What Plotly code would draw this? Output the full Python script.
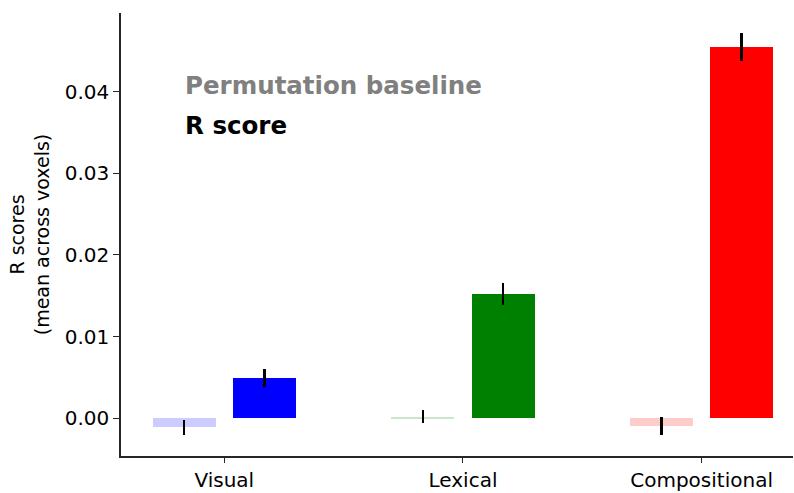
import plotly.graph_objects as go

categories = ["Visual", "Lexical", "Compositional"]
baseline_means = [-0.0011, 0.0002, -0.0010]
baseline_errs = [0.0009, 0.0008, 0.0011]
score_means = [0.0049, 0.0152, 0.0455]
score_errs = [0.0011, 0.0013, 0.0017]
baseline_colors = ["#ccccff", "#cce6cc", "#ffcccc"]
score_colors = ["#0000ff", "#008000", "#ff0000"]
y_ticks = [0.0, 0.01, 0.02, 0.03, 0.04]
y_tick_text = ["0.00", "0.01", "0.02", "0.03", "0.04"]

idx = list(range(len(categories)))
offset = 0.168
bar_w = 0.264

fig = go.Figure()
fig.add_trace(go.Bar(
    x=[i - offset for i in idx], y=baseline_means, width=bar_w,
    marker=dict(color=baseline_colors, line=dict(width=0)),
    error_y=dict(type="data", array=baseline_errs, color="black", thickness=2.5, width=0),
    showlegend=False,
))
fig.add_trace(go.Bar(
    x=[i + offset for i in idx], y=score_means, width=bar_w,
    marker=dict(color=score_colors, line=dict(width=0)),
    error_y=dict(type="data", array=score_errs, color="black", thickness=2.5, width=0),
    showlegend=False,
))

font_family = "DejaVu Sans"
fig.add_annotation(x=-0.172, y=0.0408, xref="x", yref="y", text="<b>Permutation baseline</b>",
                   showarrow=False, xanchor="left", yanchor="middle",
                   font=dict(family=font_family, size=24.5, color="#808080"))
fig.add_annotation(x=-0.172, y=0.0358, xref="x", yref="y", text="<b>R score</b>",
                   showarrow=False, xanchor="left", yanchor="middle",
                   font=dict(family=font_family, size=24.5, color="black"))

fig.update_layout(
    width=794, height=493,
    margin=dict(l=121, r=1, t=13, b=35),
    plot_bgcolor="white", paper_bgcolor="white",
    font=dict(family=font_family, size=20, color="black"),
    bargap=0,
    xaxis=dict(
        range=[-0.433, 2.383], tickmode="array", tickvals=idx, ticktext=categories,
        showline=True, linecolor="#262626", linewidth=1.5, showgrid=False, zeroline=False,
        ticks="outside", ticklen=5, tickwidth=1.2, tickcolor="#262626",
        tickfont=dict(size=20),
    ),
    yaxis=dict(
        range=[-0.00463, 0.04963], tickmode="array", tickvals=y_ticks, ticktext=y_tick_text,
        showline=True, linecolor="#262626", linewidth=1.5, showgrid=False, zeroline=False,
        ticks="outside", ticklen=6, tickwidth=1.2, tickcolor="#262626",
        tickfont=dict(size=20),
        title=dict(text="R scores<br>(mean across voxels)", font=dict(size=19), standoff=10),
    ),
)

fig.write_html("out.html")
